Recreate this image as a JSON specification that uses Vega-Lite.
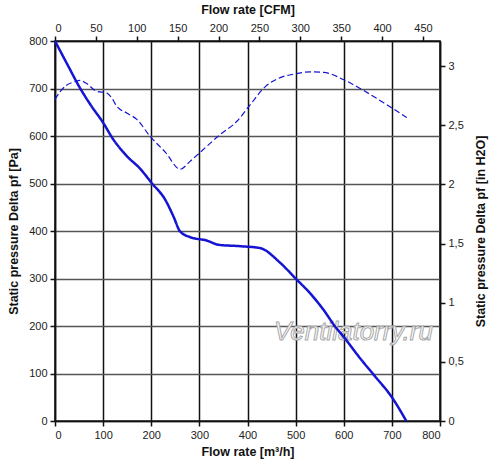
{
  "$schema": "https://vega.github.io/schema/vega-lite/v6.json",
  "description": "Fan curve: static pressure vs flow rate, with CFM and in H2O secondary axes.",
  "width": 385,
  "height": 380,
  "autosize": "none",
  "padding": {"left": 55, "top": 41, "right": 60, "bottom": 42},
  "background": "white",
  "datasets": {
    "curves": [
      {"flow": 0, "pa": 800, "series": "pressure"},
      {"flow": 25, "pa": 752, "series": "pressure"},
      {"flow": 52, "pa": 701, "series": "pressure"},
      {"flow": 75, "pa": 664, "series": "pressure"},
      {"flow": 100, "pa": 628, "series": "pressure"},
      {"flow": 121, "pa": 593, "series": "pressure"},
      {"flow": 149, "pa": 558, "series": "pressure"},
      {"flow": 177, "pa": 531, "series": "pressure"},
      {"flow": 201, "pa": 501, "series": "pressure"},
      {"flow": 229, "pa": 466, "series": "pressure"},
      {"flow": 246, "pa": 431, "series": "pressure"},
      {"flow": 260, "pa": 399, "series": "pressure"},
      {"flow": 281, "pa": 387, "series": "pressure"},
      {"flow": 315, "pa": 380, "series": "pressure"},
      {"flow": 340, "pa": 371, "series": "pressure"},
      {"flow": 385, "pa": 368, "series": "pressure"},
      {"flow": 426, "pa": 364, "series": "pressure"},
      {"flow": 468, "pa": 333, "series": "pressure"},
      {"flow": 500, "pa": 300, "series": "pressure"},
      {"flow": 530, "pa": 269, "series": "pressure"},
      {"flow": 558, "pa": 234, "series": "pressure"},
      {"flow": 582, "pa": 199, "series": "pressure"},
      {"flow": 600, "pa": 177, "series": "pressure"},
      {"flow": 634, "pa": 132, "series": "pressure"},
      {"flow": 665, "pa": 94, "series": "pressure"},
      {"flow": 700, "pa": 50, "series": "pressure"},
      {"flow": 730, "pa": 0, "series": "pressure"},
      {"flow": 0, "pa": 677, "series": "efficiency"},
      {"flow": 12, "pa": 695, "series": "efficiency"},
      {"flow": 24, "pa": 707, "series": "efficiency"},
      {"flow": 40, "pa": 714, "series": "efficiency"},
      {"flow": 52, "pa": 717, "series": "efficiency"},
      {"flow": 65, "pa": 711, "series": "efficiency"},
      {"flow": 87, "pa": 694, "series": "efficiency"},
      {"flow": 107, "pa": 691, "series": "efficiency"},
      {"flow": 118, "pa": 680, "series": "efficiency"},
      {"flow": 128, "pa": 663, "series": "efficiency"},
      {"flow": 150, "pa": 648, "series": "efficiency"},
      {"flow": 170, "pa": 635, "series": "efficiency"},
      {"flow": 197, "pa": 600, "series": "efficiency"},
      {"flow": 230, "pa": 565, "series": "efficiency"},
      {"flow": 260, "pa": 530, "series": "efficiency"},
      {"flow": 280, "pa": 546, "series": "efficiency"},
      {"flow": 301, "pa": 565, "series": "efficiency"},
      {"flow": 343, "pa": 603, "series": "efficiency"},
      {"flow": 378, "pa": 631, "series": "efficiency"},
      {"flow": 405, "pa": 665, "series": "efficiency"},
      {"flow": 437, "pa": 704, "series": "efficiency"},
      {"flow": 468, "pa": 723, "series": "efficiency"},
      {"flow": 495, "pa": 730, "series": "efficiency"},
      {"flow": 530, "pa": 735, "series": "efficiency"},
      {"flow": 558, "pa": 734, "series": "efficiency"},
      {"flow": 599, "pa": 719, "series": "efficiency"},
      {"flow": 634, "pa": 700, "series": "efficiency"},
      {"flow": 683, "pa": 670, "series": "efficiency"},
      {"flow": 731, "pa": 639, "series": "efficiency"}
    ],
    "units": [
      {"cfm": 0, "inh2o": 0},
      {"cfm": 470.86, "inh2o": 3.2117}
    ],
    "watermark": [
      {"flow": 620, "pa": 188, "label": "Ventilatorry.ru"}
    ]
  },
  "layer": [
    {
      "data": {"name": "watermark"},
      "mark": {"type": "text", "font": "Liberation Sans", "fontSize": 26, "fontStyle": "italic", "fill": "white", "stroke": "#a8a8a8", "strokeWidth": 1, "align": "center", "baseline": "middle"},
      "encoding": {
        "x": {"field": "flow", "type": "quantitative", "scale": {"domain": [0, 800], "nice": false}, "axis": null},
        "y": {"field": "pa", "type": "quantitative", "scale": {"domain": [0, 800], "nice": false}, "axis": null},
        "text": {"field": "label"}
      }
    },
    {
      "data": {"name": "curves"},
      "mark": {"type": "line", "interpolate": "monotone", "color": "#1414d2"},
      "encoding": {
        "x": {
          "field": "flow", "type": "quantitative",
          "scale": {"domain": [0, 800], "nice": false},
          "axis": {"orient": "bottom", "title": "Flow rate [m³/h]", "values": [0, 100, 200, 300, 400, 500, 600, 700, 800], "grid": true, "gridColor": "#111", "gridWidth": 1.5, "gridOpacity": 1, "titlePadding": 5}
        },
        "y": {
          "field": "pa", "type": "quantitative",
          "scale": {"domain": [0, 800], "nice": false},
          "axis": {"orient": "left", "title": "Static pressure Delta pf [Pa]", "values": [0, 100, 200, 300, 400, 500, 600, 700, 800], "grid": true, "gridColor": "#555", "gridWidth": 1.5, "gridOpacity": 1, "titlePadding": 8}
        },
        "detail": {"field": "series"},
        "strokeDash": {"field": "series", "type": "nominal", "scale": {"domain": ["pressure", "efficiency"], "range": [[1, 0], [6, 3]]}, "legend": null},
        "strokeWidth": {"field": "series", "type": "nominal", "scale": {"domain": ["pressure", "efficiency"], "range": [2.5, 1.2]}, "legend": null}
      }
    },
    {
      "data": {"name": "units"},
      "mark": {"type": "point", "opacity": 0},
      "encoding": {
        "x": {
          "field": "cfm", "type": "quantitative",
          "scale": {"domain": [0, 470.86], "nice": false, "zero": true},
          "axis": {"orient": "top", "title": "Flow rate [CFM]", "values": [0, 50, 100, 150, 200, 250, 300, 350, 400, 450], "grid": false, "titlePadding": 6}
        },
        "y": {
          "field": "inh2o", "type": "quantitative",
          "scale": {"domain": [0, 3.2117], "nice": false, "zero": true},
          "axis": {"orient": "right", "title": "Static pressure Delta pf [in H2O]", "values": [0, 0.5, 1, 1.5, 2, 2.5, 3], "labelExpr": "replace(format(datum.value, '~g'), '.', ',')", "grid": false, "titleAngle": 270, "titlePadding": 24}
        }
      }
    }
  ],
  "resolve": {
    "scale": {"x": "independent", "y": "independent"},
    "axis": {"x": "independent", "y": "independent"}
  },
  "config": {
    "view": {"stroke": "#111", "strokeWidth": 1.5},
    "axis": {
      "labelFont": "Liberation Sans",
      "labelFontSize": 11,
      "labelColor": "#222",
      "titleFont": "Liberation Sans",
      "titleFontSize": 12.5,
      "titleFontWeight": "bold",
      "titleColor": "#111",
      "domainColor": "#111",
      "domainWidth": 1.5,
      "tickColor": "#111",
      "tickWidth": 1.5,
      "tickSize": 5,
      "labelPadding": 3
    }
  }
}
